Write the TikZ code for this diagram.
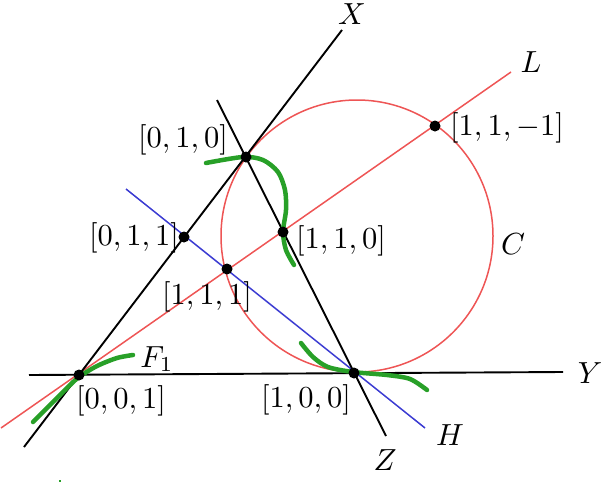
\documentclass[tikz,border=0pt]{standalone}
\usepackage{graphicx}
\definecolor{cred}{RGB}{238,85,85}
\definecolor{cblue}{RGB}{60,60,210}
\definecolor{cgreen}{RGB}{40,160,40}
\newcommand\biglbl[1]{\scalebox{3.05}{#1}}
\tikzset{
 blk/.style={black, line width=1.9pt},
 redl/.style={cred, line width=1.5pt},
 bluel/.style={cblue, line width=1.5pt},
 grn/.style={cgreen, line width=4.5pt, line cap=round},
 pt/.style={circle, fill=black, inner sep=0pt, minimum size=11pt},
 lab/.style={inner sep=0pt},
}
\begin{document}
\begin{tikzpicture}[x=1pt,y=-1pt]
\useasboundingbox (0,0) rectangle (602,482);
% end points of lines
\coordinate (x1) at (24,447);
\coordinate (x2) at (342,30);
\coordinate (y1) at (29,375);
\coordinate (y2) at (563,372);
\coordinate (z1) at (217,100);
\coordinate (z2) at (386,436);
\coordinate (l1) at (1,428);
\coordinate (l2) at (511,72);
\coordinate (h1) at (126,189);
\coordinate (h2) at (425,428);
\coordinate (cc) at (357,236);
% circle
\draw[redl] (cc) circle[radius=136];
% lines
\draw[redl] (l1) -- (l2);
\draw[bluel] (h1) -- (h2);
\draw[blk] (x1) -- (x2);
\draw[blk] (y1) -- (y2);
\draw[blk] (z1) -- (z2);
% green curves
\draw[grn] plot[smooth] coordinates {(206,163) (243,157) (263,160) (278,172) (285,190) (286,210) (283,232) (286,250) (294,265)};
\draw[grn] plot[smooth] coordinates {(301,343) (313,357) (328,367) (353,372) (387,375) (410,379) (427,390)};
\draw[grn] plot[smooth] coordinates {(33,422) (50,405) (67,388) (79,377) (97,366) (117,358) (133,355)};
\fill[cgreen] (58.5,479.5) rectangle (60.5,481.5);
% points
\node[pt] (p001) at (79,375) {};
\node[pt] (p010) at (246,157) {};
\node[pt] (p100) at (354,373) {};
\node[pt] (p110) at (283,232) {};
\node[pt] (p111) at (227,269) {};
\node[pt] (p011) at (184,237) {};
\node[pt] (p11m) at (435,126) {};
% labels
\node[lab] (t010) at (183,140) {\biglbl{$[0,1,0]$}};
\node[lab] (t110) at (341,241) {\biglbl{$[1,1,0]$}};
\node[lab] (t111) at (207,297) {\biglbl{$[1,1,1]$}};
\node[lab] (t011) at (134,238) {\biglbl{$[0,1,1]$}};
\node[lab] (t001) at (121,401) {\biglbl{$[0,0,1]$}};
\node[lab] (t100) at (306,400) {\biglbl{$[1,0,0]$}};
\node[lab] (t11m) at (507,128) {\biglbl{$[1,1,-1]$}};
\node[lab] (tX) at (352,14) {\biglbl{$X$}};
\node[lab] (tL) at (531,62) {\biglbl{$L$}};
\node[lab] (tC) at (513,244) {\biglbl{$C$}};
\node[lab] (tY) at (590,373) {\biglbl{$Y$}};
\node[lab] (tZ) at (385,460) {\biglbl{$Z$}};
\node[lab] (tH) at (450,435) {\biglbl{$H$}};
\node[lab] (tF) at (157,359) {\biglbl{$F_1$}};
\end{tikzpicture}
\end{document}
